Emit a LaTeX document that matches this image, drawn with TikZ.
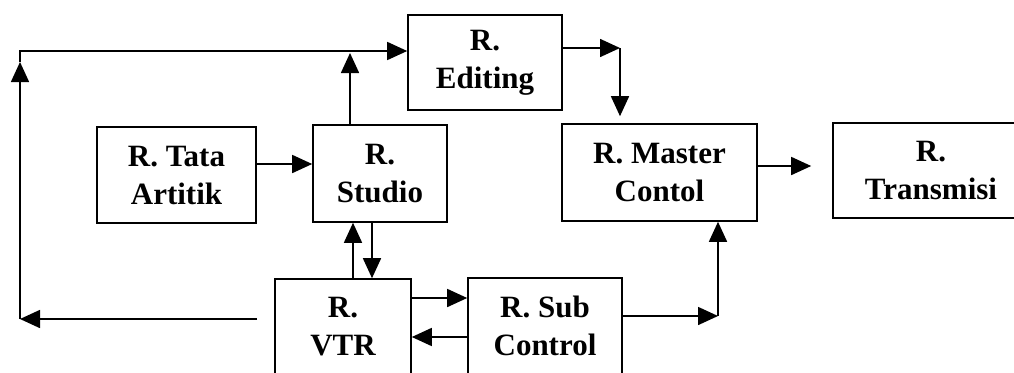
\documentclass[tikz,border=0pt]{standalone}
\usepackage{fontspec}
\setmainfont{Liberation Serif}
\usetikzlibrary{arrows.meta}
\tikzset{
  room/.style={draw, line width=1.6pt, inner sep=0pt, align=center,
    font=\bfseries\fontsize{31}{38}\selectfont},
  flow/.style={line width=1.6pt, -{Triangle[length=20pt,width=18pt]}}
}
\begin{document}
\begin{tikzpicture}[x=1pt,y=-1pt]
\useasboundingbox (0,0) rectangle (1014,372);
\clip (0,0) rectangle (1014,372);

% rooms
\node[room, minimum width=154pt, minimum height=95pt] (editing)   at (485,62.5)  {R.\\Editing};
\node[room, minimum width=159pt, minimum height=96pt] (tata)      at (176.5,175) {R. Tata\\Artitik};
\node[room, minimum width=134pt, minimum height=97pt] (studio)    at (380,173.5) {R.\\Studio};
\node[room, minimum width=195pt, minimum height=97pt] (master)    at (659.5,172.5) {R. Master\\Contol};
\node[room, minimum width=196pt, minimum height=95pt] (transmisi) at (931,170.5) {R.\\Transmisi};
\node[room, minimum width=136pt, minimum height=96pt] (vtr)       at (343,327)   {R.\\VTR};
\node[room, minimum width=154pt, minimum height=96pt] (sub)       at (545,326)   {R. Sub\\Control};

% turning points of the routed lines
\coordinate (ret)  at (257,319);
\coordinate (bl)   at (20,319);
\coordinate (mid)  at (20,62);
\coordinate (tl)   at (20,51);
\coordinate (sttip) at (350,53);
\coordinate (em)   at (620,48);
\coordinate (sm)   at (718,316);

% return loop to editing
\draw[flow] (ret) -- (bl);
\draw[flow] (bl) -- (mid);
\draw[flow] (mid) -- (tl) -- (editing.west |- tl);

% studio to editing line
\draw[flow] (studio.north -| sttip) -- (sttip);

% tata artitik to studio
\draw[flow] (tata.east |- 0,164) -- (studio.west |- 0,164);

% studio <-> vtr
\draw[flow] (vtr.north -| 353,0) -- (studio.south -| 353,0);
\draw[flow] (studio.south -| 372,0) -- (vtr.north -| 372,0);

% vtr <-> sub control
\draw[flow] (vtr.east |- 0,298) -- (sub.west |- 0,298);
\draw[flow] (sub.west |- 0,337) -- (vtr.east |- 0,337);

% sub control to master control
\draw[flow] (sub.east |- sm) -- (sm);
\draw[flow] (sm) -- (master.south -| sm);

% editing to master control
\draw[flow] (editing.east |- em) -- (em);
\draw[flow, shorten >=7pt] (em) -- (master.north -| em);

% master control to transmisi
\draw[flow, shorten >=21pt] (master.east |- 0,166) -- (transmisi.west |- 0,166);
\end{tikzpicture}
\end{document}
